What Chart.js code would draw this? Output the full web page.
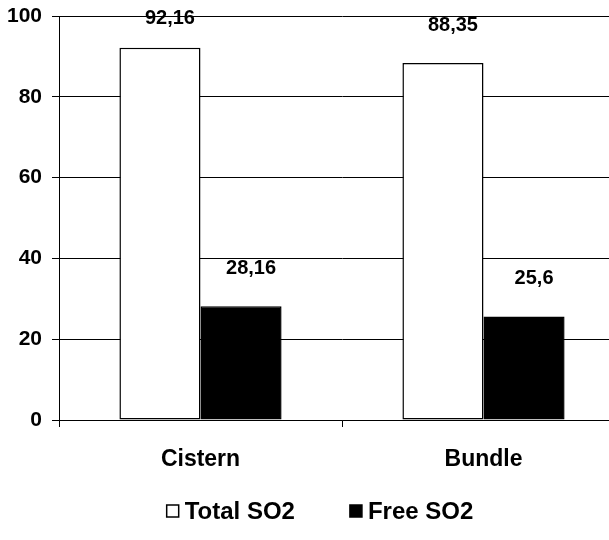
<!DOCTYPE html>
<html>
<head>
<meta charset="utf-8">
<script src="https://cdn.jsdelivr.net/npm/chart.js@4.4.1/dist/chart.umd.min.js"></script>
<style>
  html, body { margin: 0; padding: 0; background: #fff; overflow: hidden; }
  #wrap { width: 625px; height: 540px; }
</style>
</head>
<body>
<div id="wrap"><canvas id="barChartSO2"></canvas></div>
<script>
var categorias = ['Cistern', 'Bundle'];
var totalSO2 = [92.16, 88.35];
var freeSO2 = [28.16, 25.6];
var etiquetasSerie = ['Total SO2', 'Free SO2'];
var ticksY = [0, 20, 40, 60, 80, 100];

var fuente = 'Liberation Sans, Arial, sans-serif';

//etiquetas de valor encima de cada barra (coma decimal)
var etiquetasValor = {
    id: 'etiquetasValor',
    afterDatasetsDraw: function (chart) {
        var ctx = chart.ctx;
        ctx.save();
        ctx.font = 'bold 20px ' + fuente;
        ctx.fillStyle = '#000';
        ctx.textAlign = 'center';
        ctx.textBaseline = 'middle';
        chart.data.datasets.forEach(function (ds, i) {
            chart.getDatasetMeta(i).data.forEach(function (bar, j) {
                var txt = String(ds.data[j]).replace('.', ',');
                var y = Math.max(bar.y - 38, 18);
                ctx.fillText(txt, bar.x + 10, y);
            });
        });
        ctx.restore();
    }
};

//leyenda abajo, cuadro pegado al texto
var leyenda = {
    id: 'leyenda',
    afterDraw: function (chart) {
        var ctx = chart.ctx;
        var caja = 12, sep = 6, hueco = 55, yc = 511, centro = 320;
        ctx.save();
        ctx.font = 'bold 24px ' + fuente;
        ctx.textBaseline = 'middle';
        ctx.textAlign = 'left';
        var anchos = chart.data.datasets.map(function (ds) {
            return caja + sep + ctx.measureText(ds.label).width;
        });
        var total = anchos.reduce(function (a, b) { return a + b; }, 0) + hueco * (anchos.length - 1);
        var x = centro - total / 2;
        chart.data.datasets.forEach(function (ds, i) {
            ctx.fillStyle = ds.backgroundColor;
            ctx.fillRect(x, yc - caja / 2, caja, caja);
            ctx.strokeStyle = '#000';
            ctx.lineWidth = 1.5;
            ctx.strokeRect(x, yc - caja / 2, caja, caja);
            ctx.fillStyle = '#000';
            ctx.fillText(ds.label, x + caja + sep, yc + 1);
            x += anchos[i] + hueco;
        });
        ctx.restore();
    }
};

var ctx = document.getElementById('barChartSO2').getContext('2d');
new Chart(ctx, {
    type: 'bar',
    data: {
        labels: categorias,
        datasets: [{
            label: etiquetasSerie[0],
            data: totalSO2,
            backgroundColor: '#ffffff',
            borderColor: '#000000',
            borderWidth: 1.5,
            borderSkipped: false
        }, {
            label: etiquetasSerie[1],
            data: freeSO2,
            backgroundColor: '#000000',
            borderColor: '#000000',
            borderWidth: 1.5,
            borderSkipped: false
        }]
    },
    options: {
        responsive: true,
        maintainAspectRatio: false,
        animation: false,
        datasets: { bar: { categoryPercentage: 0.573, barPercentage: 1 } },
        layout: { padding: { top: 0, bottom: 0, left: 0, right: 0 } },
        plugins: {
            tooltip: { enabled: false },
            legend: { display: false }
        },
        scales: {
            x: {
                grid: { drawOnChartArea: false, drawTicks: true, tickLength: 7, color: '#000', offset: true },
                border: { color: '#000', width: 1 },
                ticks: { color: '#000', font: { family: fuente, size: 23, weight: 'bold' }, padding: 19 },
                afterFit: function (scale) { scale.height = 120; }
            },
            y: {
                min: 0,
                max: 100,
                afterBuildTicks: function (scale) {
                    scale.ticks = ticksY.map(function (v) { return { value: v }; });
                },
                grid: { color: '#000', lineWidth: 1, tickLength: 7 },
                border: { color: '#000', width: 1 },
                ticks: { color: '#000', font: { family: fuente, size: 21, weight: 'bold' }, padding: 10 },
                afterFit: function (scale) {
                    scale.width = 59;
                    scale.paddingTop = 16;
                    scale.paddingBottom = 0;
                }
            }
        }
    },
    plugins: [etiquetasValor, leyenda]
});
</script>
</body>
</html>
